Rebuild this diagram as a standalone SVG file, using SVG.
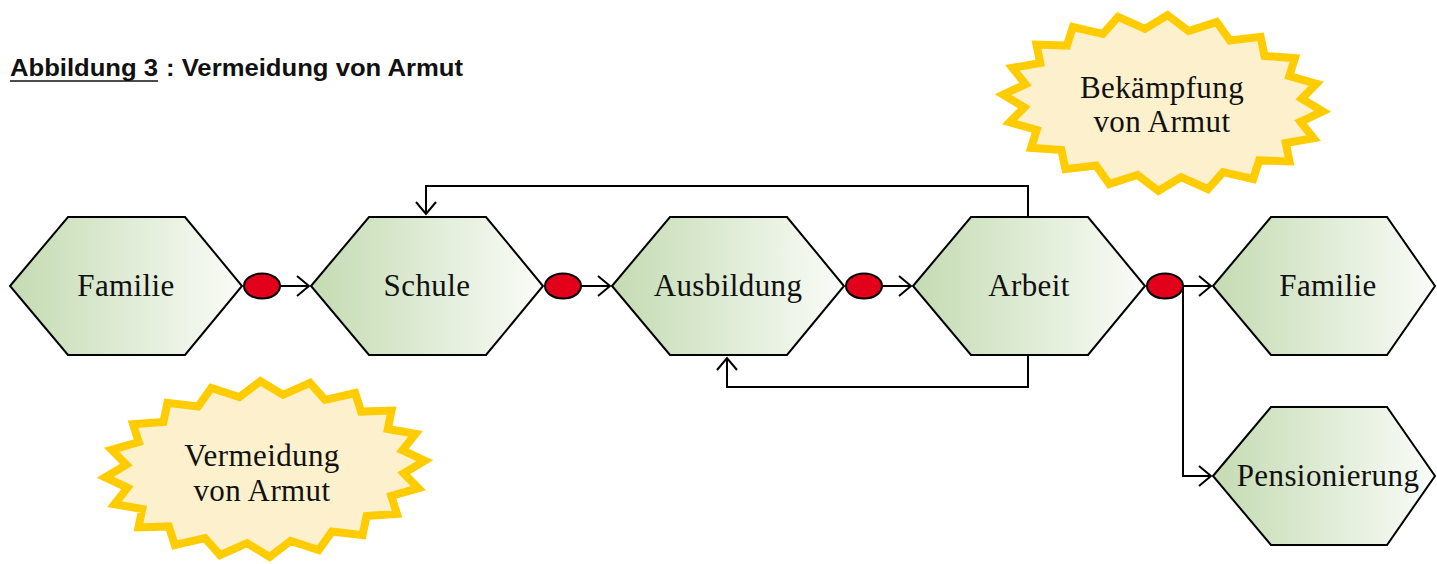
<svg xmlns="http://www.w3.org/2000/svg" xmlns:xlink="http://www.w3.org/1999/xlink" width="1437" height="564" viewBox="0 0 1437 564">
<style>
.hex{stroke:#000;stroke-width:2;fill:url(#hg);stroke-linejoin:miter}
.lbl{font-family:"Liberation Serif","Times New Roman",serif;font-size:31px;letter-spacing:0.4px;fill:#111;text-anchor:middle}
.star{fill:#fdf0cc;stroke:#ffcc00;stroke-width:8;stroke-linejoin:miter;stroke-miterlimit:8}
.dot{fill:#e2001a;stroke:#000;stroke-width:2}
.con{fill:none;stroke:#000;stroke-width:2}
.title{font-family:"Liberation Sans",Arial,sans-serif;font-size:23px;font-weight:bold;fill:#111}
</style>
<defs>
<linearGradient id="hg" x1="0" y1="0" x2="1" y2="0">
<stop offset="0" stop-color="#c4dbb2"/>
<stop offset="1" stop-color="#fafcf8"/>
</linearGradient>
<marker id="ah" markerWidth="16" markerHeight="24" refX="13" refY="11" orient="auto" markerUnits="userSpaceOnUse">
<path d="M1,1 L13,11 L1,21" fill="none" stroke="#000" stroke-width="2"/>
</marker>
<polygon id="starShape" points="0,-88 21.9,-73.1 49.4,-83.7 63.6,-65.9 94,-71.2 99,-52.3 129.4,-51.7 124.7,-33.6 152.2,-27.2 138.3,-11.6 160,0 138.3,11.6 152.2,27.2 124.7,33.6 129.4,51.7 99,52.3 94,71.2 63.6,65.9 49.4,83.7 21.9,73.1 0,88 -21.9,73.1 -49.4,83.7 -63.6,65.9 -94,71.2 -99,52.3 -129.4,51.7 -124.7,33.6 -152.2,27.2 -138.3,11.6 -160,0 -138.3,-11.6 -152.2,-27.2 -124.7,-33.6 -129.4,-51.7 -99,-52.3 -94,-71.2 -63.6,-65.9 -49.4,-83.7 -21.9,-73.1"/>
</defs>
<rect width="1437" height="564" fill="#fff"/>

<g id="title">
<text class="title" x="10" y="76" textLength="148" lengthAdjust="spacingAndGlyphs">Abbildung 3</text>
<line x1="10" y1="81" x2="158" y2="81" stroke="#111" stroke-width="1.6"/>
<text class="title" x="166" y="76" textLength="297" lengthAdjust="spacingAndGlyphs">: Vermeidung von Armut</text>
</g>

<g id="star-bekaempfung">
<use xlink:href="#starShape" href="#starShape" class="star" transform="translate(1163,103) rotate(3)"/>
<text class="lbl" x="1162" y="98">Bekämpfung</text>
<text class="lbl" x="1162" y="132">von Armut</text>
</g>

<g id="star-vermeidung">
<use xlink:href="#starShape" href="#starShape" class="star" transform="translate(265,469) rotate(-3)"/>
<text class="lbl" x="262" y="466">Vermeidung</text>
<text class="lbl" x="262" y="501">von Armut</text>
</g>

<g id="connectors">
<line class="con" x1="280" y1="286" x2="309" y2="286" marker-end="url(#ah)"/>
<line class="con" x1="581" y1="286" x2="610" y2="286" marker-end="url(#ah)"/>
<line class="con" x1="882" y1="286" x2="911" y2="286" marker-end="url(#ah)"/>
<line class="con" x1="1183" y1="286" x2="1211" y2="286" marker-end="url(#ah)"/>
<path class="con" d="M1183,286 V476 H1211" marker-end="url(#ah)"/>
<path class="con" d="M1028,217 V186 H426 V214" marker-end="url(#ah)"/>
<path class="con" d="M1028,355 V387 H727 V358" marker-end="url(#ah)"/>
</g>

<g id="node-familie1">
<polygon class="hex" points="10,286 68,217 185,217 242,286 185,355 68,355"/>
<text class="lbl" x="126" y="296">Familie</text>
</g>
<g id="node-schule">
<polygon class="hex" points="311,286 369,217 486,217 543,286 486,355 369,355"/>
<text class="lbl" x="427" y="296">Schule</text>
</g>
<g id="node-ausbildung">
<polygon class="hex" points="612,286 670,217 787,217 844,286 787,355 670,355"/>
<text class="lbl" x="728" y="296">Ausbildung</text>
</g>
<g id="node-arbeit">
<polygon class="hex" points="913,286 971,217 1088,217 1145,286 1088,355 971,355"/>
<text class="lbl" x="1029" y="296">Arbeit</text>
</g>
<g id="node-familie2">
<polygon class="hex" points="1213,286 1271,217 1387,217 1435,286 1387,355 1271,355"/>
<text class="lbl" x="1328" y="296">Familie</text>
</g>
<g id="node-pensionierung">
<polygon class="hex" points="1213,476 1271,407 1387,407 1435,476 1387,545 1271,545"/>
<text class="lbl" x="1328" y="486">Pensionierung</text>
</g>

<g id="dots">
<ellipse class="dot" cx="262" cy="286" rx="18" ry="12.5"/>
<ellipse class="dot" cx="563" cy="286" rx="18" ry="12.5"/>
<ellipse class="dot" cx="864" cy="286" rx="18" ry="12.5"/>
<ellipse class="dot" cx="1165" cy="286" rx="18" ry="12.5"/>
</g>
</svg>
